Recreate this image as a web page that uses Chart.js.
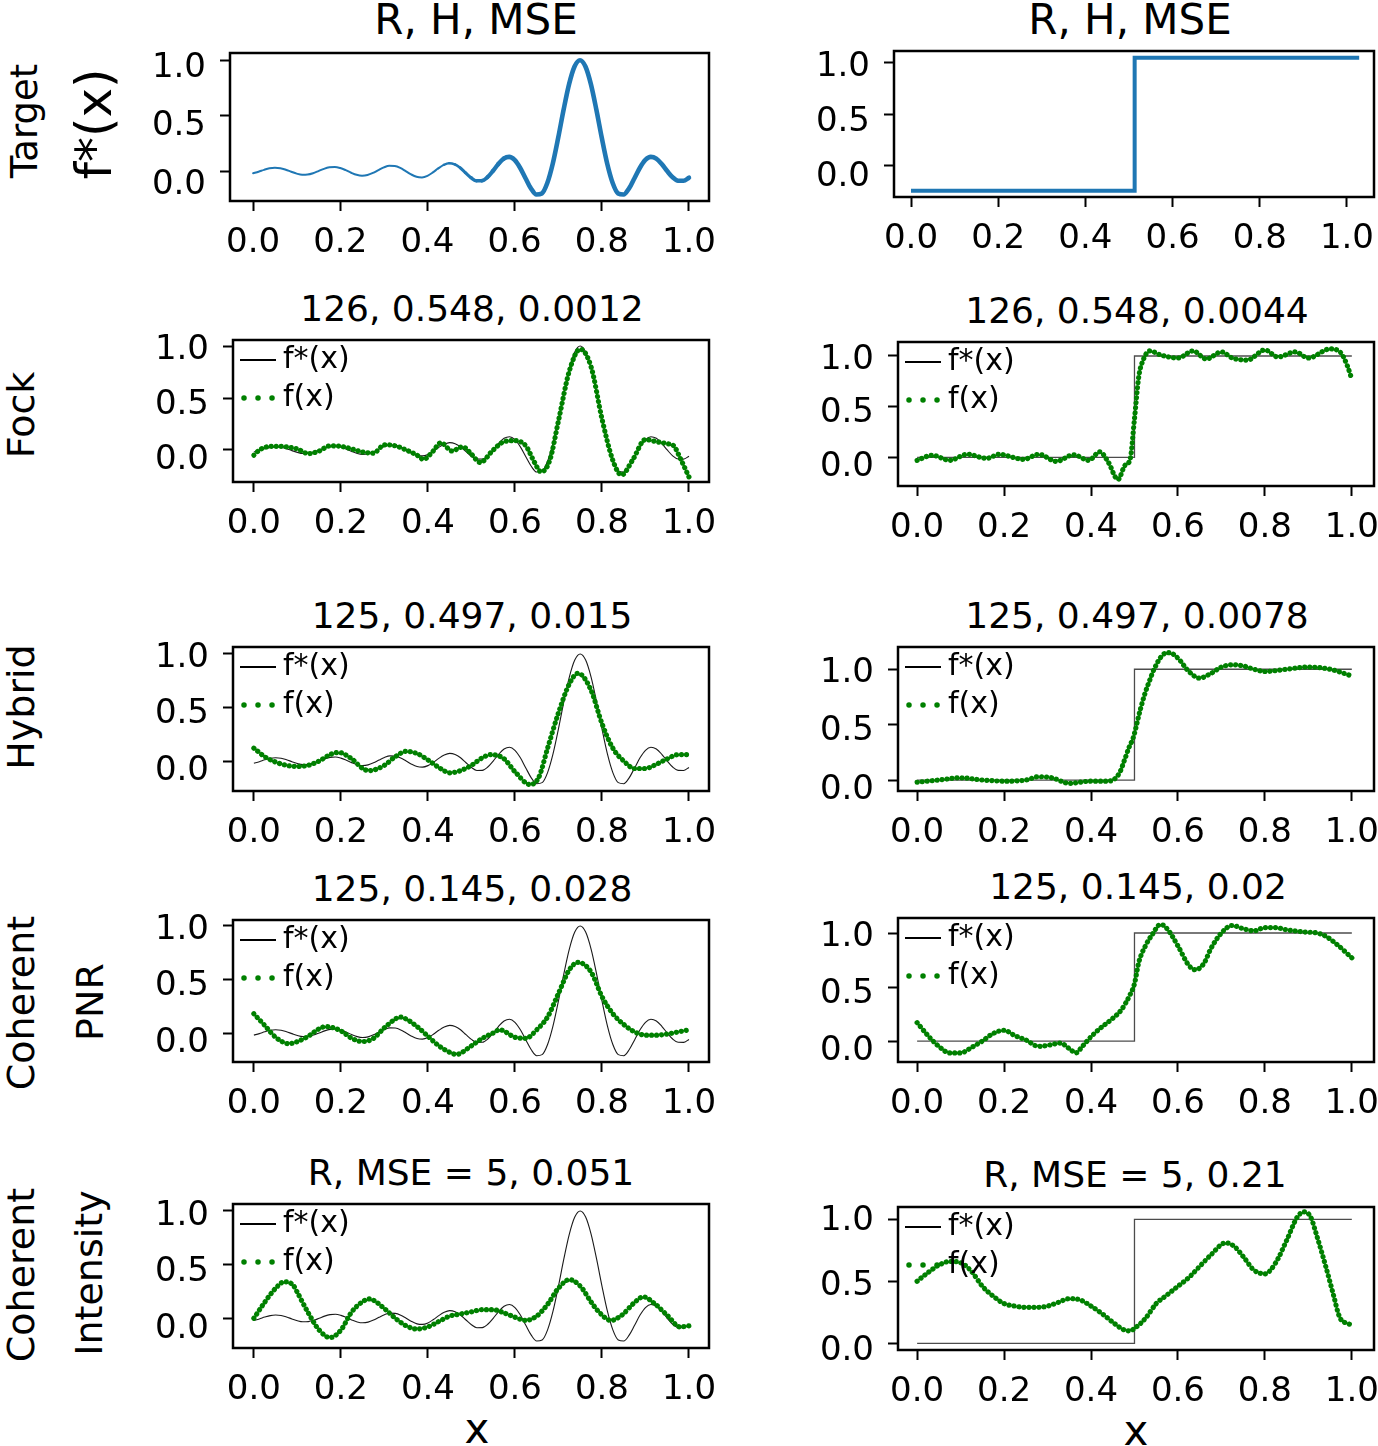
<!DOCTYPE html>
<html><head><meta charset="utf-8">
<script src="https://cdn.jsdelivr.net/npm/chart.js@4"></script>
<style>
html,body{margin:0;padding:0;background:#fff;}
#fig{position:relative;width:1378px;height:1446px;overflow:hidden;background:#fff;font-family:"DejaVu Sans";color:#000;}
.cv{position:absolute;}
.t{position:absolute;white-space:nowrap;line-height:1;transform:translate(-50%,-50%);}
.r{position:absolute;white-space:nowrap;line-height:1;transform:translate(-50%,-50%) rotate(-90deg);}
</style></head><body><div id="fig"></div>
<script>
// ---------------- DATA ----------------
const xTickValues = [0, 0.2, 0.4, 0.6, 0.8, 1.0];
const yTickValues = [0, 0.5, 1.0];

// Target f*(x), left column
const targetX = [0,0.0125,0.025,0.0375,0.05,0.0625,0.075,0.0875,0.1,0.1125,0.125,0.1375,0.15,0.1625,0.175,0.1875,0.2,0.2125,0.225,0.2375,0.25,0.2625,0.275,0.2875,0.3,0.3125,0.325,0.3375,0.35,0.3625,0.375,0.3875,0.4,0.4125,0.425,0.4375,0.45,0.4625,0.475,0.4875,0.5,0.5125,0.525,0.5375,0.55,0.5625,0.575,0.5875,0.6,0.6125,0.625,0.6375,0.65,0.6625,0.675,0.6875,0.7,0.7125,0.725,0.7375,0.75,0.7625,0.775,0.7875,0.8,0.8125,0.825,0.8375,0.85,0.8625,0.875,0.8875,0.9,0.9125,0.925,0.9375,0.95,0.9625,0.975,0.9875,1.0];
const targetY = [-0.020,-0.006,0.011,0.025,0.030,0.026,0.012,-0.006,-0.023,-0.033,-0.031,-0.019,0.000,0.020,0.034,0.037,0.027,0.008,-0.015,-0.034,-0.042,-0.036,-0.017,0.009,0.033,0.048,0.046,0.029,0.000,-0.030,-0.052,-0.057,-0.043,-0.012,0.025,0.056,0.071,0.061,0.030,-0.016,-0.060,-0.088,-0.087,-0.056,0.000,0.063,0.112,0.128,0.100,0.030,-0.065,-0.157,-0.212,-0.202,-0.108,0.066,0.300,0.555,0.784,0.943,1.000,0.943,0.784,0.555,0.300,0.066,-0.108,-0.202,-0.212,-0.157,-0.065,0.030,0.100,0.128,0.112,0.063,0.000,-0.056,-0.087,-0.088,-0.060];

// Target, right column (top-right panel) and thin reference step
const targetStepX = [0, 0.513, 0.513, 1.028];
const targetStepY = [-0.24, -0.24, 1.045, 1.045];
const stepX = [0, 0.5, 0.5, 1.0];
const stepY = [0, 0, 1, 1];

// Fock
const fockLX = [0,0.01,0.025,0.05,0.075,0.1,0.125,0.15,0.175,0.2,0.225,0.25,0.275,0.3,0.325,0.35,0.375,0.39,0.41,0.43,0.455,0.48,0.5,0.52,0.55,0.575,0.6,0.625,0.645,0.66,0.68,0.7,0.725,0.75,0.775,0.8,0.825,0.845,0.87,0.9,0.925,0.95,0.965,0.98,1.0];
const fockLY = [-0.05,-0.01,0.025,0.035,0.03,0.01,-0.035,-0.01,0.04,0.035,0.01,-0.02,-0.03,0.05,0.04,0.0,-0.05,-0.09,-0.02,0.07,-0.01,0.03,-0.04,-0.12,0.0,0.08,0.09,0.04,-0.12,-0.21,-0.10,0.28,0.76,0.97,0.80,0.30,-0.10,-0.24,-0.10,0.10,0.08,0.06,0.04,-0.08,-0.26];
const fockRX = [0,0.035,0.075,0.115,0.16,0.19,0.22,0.245,0.28,0.32,0.36,0.395,0.42,0.44,0.462,0.478,0.49,0.5,0.51,0.52,0.535,0.56,0.6,0.635,0.665,0.7,0.725,0.76,0.8,0.83,0.87,0.9,0.95,0.975,0.99,1.0];
const fockRY = [-0.03,0.02,-0.03,0.03,-0.01,0.03,0.0,-0.02,0.03,-0.04,0.025,-0.03,0.055,-0.05,-0.22,-0.08,-0.02,0.38,0.8,0.96,1.05,1.01,0.98,1.05,0.97,1.04,0.98,0.96,1.06,0.99,1.04,0.98,1.07,1.03,0.9,0.77];

// Hybrid
const hybLX = [0,0.025,0.05,0.075,0.1,0.125,0.15,0.175,0.195,0.225,0.25,0.265,0.3,0.325,0.35,0.375,0.4,0.425,0.45,0.475,0.5,0.525,0.545,0.575,0.6,0.635,0.655,0.675,0.7,0.725,0.745,0.775,0.8,0.825,0.85,0.875,0.9,0.925,0.95,0.975,1.0];
const hybLY = [0.12,0.04,-0.01,-0.04,-0.05,-0.04,0.0,0.06,0.08,0.02,-0.07,-0.09,-0.04,0.04,0.09,0.07,0.01,-0.06,-0.11,-0.09,-0.04,0.03,0.06,0.02,-0.1,-0.22,-0.15,0.12,0.45,0.72,0.82,0.66,0.35,0.12,0.0,-0.07,-0.07,-0.03,0.02,0.06,0.06];
const hybRX = [0,0.05,0.1,0.15,0.2,0.25,0.28,0.31,0.35,0.4,0.44,0.465,0.477,0.488,0.497,0.513,0.524,0.535,0.545,0.565,0.58,0.6,0.625,0.65,0.675,0.7,0.725,0.75,0.775,0.8,0.85,0.9,0.95,1.0];
const hybRY = [-0.02,0.0,0.02,0.0,-0.01,0.0,0.03,0.02,-0.03,-0.01,-0.01,0.06,0.18,0.3,0.38,0.63,0.78,0.9,1.0,1.13,1.15,1.1,0.98,0.92,0.96,1.02,1.04,1.03,1.0,0.98,1.0,1.02,1.0,0.94];

// Coherent PNR
const pnrLX = [0,0.025,0.05,0.08,0.1,0.125,0.15,0.165,0.2,0.225,0.25,0.275,0.3,0.325,0.335,0.35,0.375,0.4,0.425,0.45,0.465,0.5,0.525,0.55,0.565,0.6,0.625,0.65,0.675,0.7,0.725,0.745,0.775,0.8,0.825,0.85,0.875,0.9,0.925,0.95,0.975,1.0];
const pnrLY = [0.18,0.07,-0.04,-0.1,-0.08,-0.03,0.04,0.06,0.02,-0.05,-0.08,-0.05,0.05,0.13,0.15,0.13,0.06,-0.03,-0.12,-0.18,-0.2,-0.12,-0.05,0.0,0.03,-0.04,-0.05,0.03,0.15,0.37,0.59,0.66,0.57,0.34,0.18,0.08,0.01,-0.02,-0.02,-0.01,0.01,0.03];
const pnrRX = [0,0.025,0.05,0.075,0.1,0.125,0.15,0.175,0.2,0.225,0.25,0.28,0.3,0.33,0.35,0.365,0.38,0.4,0.425,0.45,0.47,0.49,0.5,0.51,0.525,0.54,0.56,0.575,0.6,0.625,0.64,0.66,0.675,0.7,0.725,0.75,0.775,0.8,0.825,0.85,0.89,0.92,0.94,0.967,1.0];
const pnrRY = [0.17,0.05,-0.05,-0.11,-0.11,-0.06,0.0,0.07,0.1,0.05,0.01,-0.05,-0.04,-0.02,-0.07,-0.11,-0.05,0.04,0.13,0.21,0.29,0.43,0.53,0.73,0.88,0.98,1.08,1.04,0.88,0.7,0.66,0.72,0.85,1.0,1.07,1.04,1.02,1.05,1.05,1.03,1.01,1.0,0.97,0.89,0.77];

// Coherent Intensity
const intLX = [0,0.025,0.05,0.07,0.09,0.1,0.125,0.15,0.175,0.2,0.225,0.25,0.265,0.3,0.325,0.35,0.375,0.4,0.425,0.45,0.475,0.5,0.525,0.55,0.575,0.6,0.625,0.65,0.675,0.7,0.725,0.75,0.777,0.795,0.82,0.846,0.873,0.895,0.92,0.952,0.979,1.0];
const intLY = [0.0,0.15,0.28,0.34,0.31,0.24,0.05,-0.11,-0.18,-0.11,0.06,0.155,0.18,0.09,0.0,-0.07,-0.1,-0.08,-0.03,0.02,0.04,0.06,0.08,0.08,0.05,0.01,-0.02,0.02,0.13,0.28,0.36,0.3,0.14,0.05,-0.02,0.03,0.14,0.2,0.14,0.02,-0.08,-0.07];
const intRX = [0,0.025,0.05,0.075,0.1,0.125,0.15,0.175,0.2,0.225,0.25,0.275,0.3,0.325,0.35,0.375,0.4,0.425,0.45,0.475,0.49,0.5,0.525,0.55,0.575,0.6,0.625,0.65,0.675,0.71,0.73,0.75,0.775,0.8,0.825,0.85,0.875,0.89,0.905,0.92,0.94,0.957,0.972,0.99,1.0];
const intRY = [0.5,0.57,0.63,0.66,0.65,0.58,0.46,0.38,0.32,0.3,0.29,0.29,0.3,0.33,0.36,0.35,0.3,0.24,0.17,0.11,0.1,0.12,0.2,0.32,0.39,0.46,0.53,0.62,0.71,0.81,0.78,0.7,0.59,0.56,0.65,0.83,1.02,1.06,1.02,0.86,0.62,0.4,0.21,0.16,0.15];

const legendLabels = ['f*(x)', 'f(x)'];
const rowLabels = ['Target', 'f*(x)', 'Fock', 'Hybrid', 'Coherent', 'PNR', 'Coherent', 'Intensity'];
const titles = ['R, H, MSE', 'R, H, MSE', '126, 0.548, 0.0012', '126, 0.548, 0.0044', '125, 0.497, 0.015', '125, 0.497, 0.0078', '125, 0.145, 0.028', '125, 0.145, 0.02', 'R, MSE = 5, 0.051', 'R, MSE = 5, 0.21'];
const xLabel = 'x';

// ---------------- STYLE / LAYOUT ----------------
const FONT = '"DejaVu Sans"';
const BLUE = '#1f77b4', GREEN = '#008000';
Chart.defaults.font.family = FONT;
Chart.defaults.color = '#000';

const fig = document.getElementById('fig');
function addText(cls, text, x, y, size) {
  const d = document.createElement('div');
  d.className = cls; d.textContent = text;
  d.style.left = x + 'px'; d.style.top = y + 'px'; d.style.fontSize = size + 'px';
  fig.appendChild(d);
}
function pts(xs, ys) { return xs.map((x, i) => ({ x: x, y: ys[i] })); }

const TICKLEN = 10, YPAD = 14, TICKFONT = 34;
const boxPlugin = {
  id: 'mplBox',
  afterDraw(chart, args, opts) {
    const ctx = chart.ctx, a = chart.chartArea, ys = chart.scales.y;
    ctx.save();
    // y tick labels (drawn slightly below their ticks, as in the reference)
    ctx.font = TICKFONT + 'px ' + FONT; ctx.fillStyle = '#000';
    ctx.textAlign = 'right'; ctx.textBaseline = 'middle';
    const extra = opts.labelShift || 0;
    yTickValues.forEach(v => {
      ctx.fillText(v.toFixed(1), a.left - TICKLEN - YPAD, ys.getPixelForValue(v) + 4 + extra + 6 * (1 - v));
    });
    ctx.strokeStyle = '#000'; ctx.lineWidth = 2.5; ctx.setLineDash([]);
    ctx.strokeRect(a.left, a.top, a.right - a.left, a.bottom - a.top);
    if (opts.legend) {
      ctx.font = '30px ' + FONT;
      ctx.textAlign = 'left';
      const x0 = a.left + 7, y1 = a.top + 20, y2 = a.top + 58;
      ctx.beginPath(); ctx.lineWidth = 1.8; ctx.strokeStyle = '#000';
      ctx.moveTo(x0, y1); ctx.lineTo(x0 + 36, y1); ctx.stroke();
      ctx.fillText(opts.legend[0], x0 + 43, y1);
      ctx.beginPath(); ctx.lineCap = 'round'; ctx.lineWidth = 5.5; ctx.strokeStyle = GREEN;
      ctx.setLineDash([0.01, 14]); ctx.moveTo(x0 + 4, y2); ctx.lineTo(x0 + 36, y2); ctx.stroke();
      ctx.setLineDash([]);
      ctx.fillText(opts.legend[1], x0 + 43, y2);
    }
    ctx.restore();
  }
};

const LEFT = 140, TOP = 24, BOTTOM = 70;

function makePanel(p) {
  const [l, t, r, b] = p.box;
  const right = Math.min(30, 1378 - r);
  const W = LEFT + (r - l) + right, H = TOP + (b - t) + BOTTOM;
  const cv = document.createElement('canvas');
  cv.className = 'cv'; cv.width = W; cv.height = H;
  cv.style.left = (l - LEFT) + 'px'; cv.style.top = (t - TOP) + 'px';
  cv.style.width = W + 'px'; cv.style.height = H + 'px';
  fig.appendChild(cv);
  const gridOpts = { display: true, drawOnChartArea: false, drawTicks: true, tickLength: TICKLEN, tickWidth: 2, tickColor: '#000' };
  new Chart(cv.getContext('2d'), {
    type: 'line',
    data: { datasets: p.datasets },
    options: {
      responsive: false, animation: false, devicePixelRatio: 1,
      layout: { padding: { left: 0, top: TOP, right: right, bottom: 0 } },
      plugins: { legend: { display: false }, tooltip: { enabled: false }, mplBox: { legend: p.legend, labelShift: p.shift || 0 } },
      elements: { point: { radius: 0 } },
      scales: {
        x: {
          type: 'linear', min: p.xr[0], max: p.xr[1], bounds: 'data',
          afterBuildTicks: s => { s.ticks = xTickValues.map(v => ({ value: v })); },
          afterFit: s => { s.height = BOTTOM; s.paddingLeft = 0; s.paddingRight = 0; },
          grid: gridOpts, border: { display: false },
          ticks: { color: '#000', font: { size: TICKFONT }, padding: 12, maxRotation: 0, autoSkip: false, callback: v => v.toFixed(1) }
        },
        y: {
          type: 'linear', min: p.yr[0], max: p.yr[1], bounds: 'data',
          afterBuildTicks: s => { s.ticks = yTickValues.map(v => ({ value: v })); },
          afterFit: s => { s.width = LEFT; s.paddingTop = 0; s.paddingBottom = 0; },
          grid: gridOpts, border: { display: false },
          ticks: { display: false, autoSkip: false }
        }
      }
    },
    plugins: [boxPlugin]
  });
}

function greenSet(xs, ys) {
  return { label: legendLabels[1], data: pts(xs, ys), borderColor: GREEN, borderWidth: 5.2,
    borderDash: [0.01, 5.0], borderCapStyle: 'round', cubicInterpolationMode: 'monotone', fill: false, pointRadius: 0 };
}
function blackSinc() {
  return { label: legendLabels[0], data: pts(targetX, targetY), borderColor: 'rgba(0,0,0,0.9)', borderWidth: 1.1,
    cubicInterpolationMode: 'monotone', fill: false, pointRadius: 0 };
}
function blackStep() {
  return { label: legendLabels[0], data: pts(stepX, stepY), borderColor: 'rgba(0,0,0,0.7)', borderWidth: 1.3,
    tension: 0, fill: false, pointRadius: 0 };
}

const XL = [-0.048, 1.046], XR = [-0.044, 1.051];
const panels = [
  { box: [230, 53, 709, 201], xr: [-0.053, 1.046], yr: [-0.27, 1.065], shift: 4, datasets: [{
      label: legendLabels[0], data: pts(targetX, targetY), borderColor: BLUE, borderCapStyle: 'round',
      cubicInterpolationMode: 'monotone', fill: false, pointRadius: 0, borderWidth: 4.5,
      segment: { borderWidth: c => { const x = c.p0.parsed.x; return x < 0.42 ? 2 : (x < 0.57 ? 2 + (x - 0.42) / 0.15 * 2.6 : 4.6); } } }] },
  { box: [894, 51, 1374, 197], xr: [-0.039, 1.062], yr: [-0.30, 1.11], shift: 1, datasets: [{
      label: legendLabels[0], data: pts(targetStepX, targetStepY), borderColor: BLUE, borderWidth: 4, tension: 0, fill: false, pointRadius: 0 }] },
  { box: [233, 340, 709, 482], xr: XL, yr: [-0.308, 1.058], datasets: [greenSet(fockLX, fockLY), blackSinc()], legend: legendLabels },
  { box: [898, 342, 1374, 486], xr: XR, yr: [-0.283, 1.138], datasets: [greenSet(fockRX, fockRY), blackStep()], legend: legendLabels },
  { box: [233, 647, 709, 791], xr: XL, yr: [-0.28, 1.065], datasets: [greenSet(hybLX, hybLY), blackSinc()], legend: legendLabels },
  { box: [898, 647, 1374, 791], xr: XR, yr: [-0.099, 1.201], datasets: [greenSet(hybRX, hybRY), blackStep()], legend: legendLabels },
  { box: [233, 920, 709, 1062], xr: XL, yr: [-0.271, 1.056], datasets: [greenSet(pnrLX, pnrLY), blackSinc()], legend: legendLabels },
  { box: [898, 918, 1374, 1062], xr: XR, yr: [-0.194, 1.139], datasets: [greenSet(pnrRX, pnrRY), blackStep()], legend: legendLabels },
  { box: [233, 1204, 709, 1348], xr: XL, yr: [-0.277, 1.065], shift: 1, datasets: [greenSet(intLX, intLY), blackSinc()], legend: legendLabels },
  { box: [898, 1207, 1374, 1350], xr: XR, yr: [-0.054, 1.099], shift: -2, datasets: [greenSet(intRX, intRY), blackStep()], legend: legendLabels }
];

// text first (under the transparent canvases)
const titlePos = [[476, 20, 42], [1130, 20, 42], [472, 309, 36], [1137, 311, 36], [472, 616, 36], [1137, 616, 36], [472, 889, 36], [1138, 887, 36], [471, 1173, 36], [1135, 1175, 36]];
titles.forEach((s, i) => addText('t', s, titlePos[i][0], titlePos[i][1], titlePos[i][2]));
const rowPos = [[24, 121, 37], [94, 124, 50], [21, 415, 38], [21, 707, 38], [21, 1003, 38], [90, 1002, 38], [21, 1275, 38], [89, 1273, 38]];
rowLabels.forEach((s, i) => addText('r', s, rowPos[i][0], rowPos[i][1], rowPos[i][2]));
addText('t', xLabel, 477, 1429, 42);
addText('t', xLabel, 1136, 1431, 42);

panels.forEach(makePanel);
</script></body></html>
